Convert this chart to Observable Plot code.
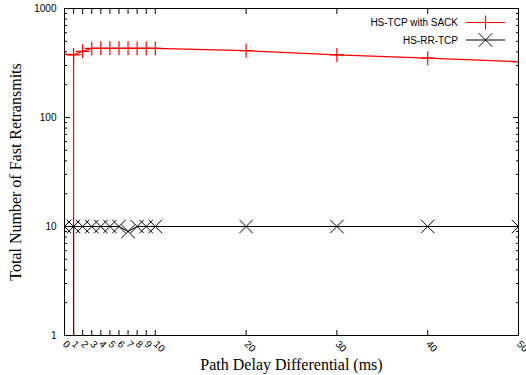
<!DOCTYPE html>
<html>
<head>
<meta charset="utf-8">
<script src="https://cdn.jsdelivr.net/npm/d3@7"></script>
<script src="https://cdn.jsdelivr.net/npm/@observablehq/plot@0.6"></script>
<style>
  body { margin: 0; background: #fff; }
  #chart svg { display: block; }
</style>
</head>
<body>
<div id="chart"></div>
<script>
// ---- data ----
const delays = [0, 1, 2, 3, 4, 5, 6, 7, 8, 9, 10, 20, 30, 40, 50];
const sackValues = [380, 375, 405, 430, 432, 432, 432, 432, 430, 430, 430, 410, 375, 350, 325];
const rrValues = [10, 10, 10, 10, 10, 10, 10, 9, 10, 10, 10, 10, 10, 10, 10];
const seriesNames = ["HS-TCP with SACK", "HS-RR-TCP"];
const xTicks = [0, 1, 2, 3, 4, 5, 6, 7, 8, 9, 10, 20, 30, 40, 50];
const yMajor = [1, 10, 100, 1000];
const yMinor = [2, 3, 4, 5, 6, 7, 8, 9, 20, 30, 40, 50, 60, 70, 80, 90, 200, 300, 400, 500, 600, 700, 800, 900];
const dropX = [1]; // vertical drop line at delay 1
const xTitle = "Path Delay Differential (ms)";
const yTitle = "Total Number of Fast Retransmits";

const sack = delays.map((d, i) => ({x: d, y: sackValues[i]}));
const rr = delays.map((d, i) => ({x: d, y: rrValues[i]}));
const sackDrop = dropX.map(x => ({x, y1: 1, y2: sackValues[delays.indexOf(x)]}));
const rrDrop = dropX.map(x => ({x, y1: 1, y2: rrValues[delays.indexOf(x)]}));

const sans = "'Liberation Sans', Arial, sans-serif";
const serif = "'Liberation Serif', 'Times New Roman', serif";

const plot = Plot.plot({
  width: 526,
  height: 375,
  marginLeft: 64,
  marginRight: 8,
  marginTop: 8,
  marginBottom: 40,
  style: {fontFamily: sans, fontSize: "10px", background: "#fff", overflow: "visible"},
  x: {domain: [0, 50]},
  y: {type: "log", domain: [1, 1000]},
  marks: [
    // inward ticks
    Plot.axisY({anchor: "left", ticks: yMajor, tickSize: -6, tickFormat: () => "", label: null}),
    Plot.axisY({anchor: "left", ticks: yMinor, tickSize: -3, tickFormat: () => "", label: null}),
    Plot.axisY({anchor: "right", ticks: yMajor, tickSize: -6, tickFormat: () => "", label: null}),
    Plot.axisY({anchor: "right", ticks: yMinor, tickSize: -3, tickFormat: () => "", label: null}),
    Plot.axisX({anchor: "bottom", ticks: xTicks, tickSize: -5, tickFormat: () => "", label: null}),
    Plot.axisX({anchor: "top", ticks: xTicks, tickSize: -5, tickFormat: () => "", label: null}),
    // labels
    Plot.axisY({anchor: "left", ticks: yMajor, tickSize: 0, tickPadding: 8, tickFormat: d => String(d), label: null, fontSize: 10}),
    Plot.axisX({anchor: "bottom", ticks: xTicks, tickSize: 0, tickPadding: 7, tickRotate: 45, tickFormat: d => String(d), label: null, fontSize: 10}),
    // series
    Plot.ruleX(sackDrop, {x: "x", y1: "y1", y2: "y2", stroke: "#ff0000", strokeWidth: 1.2}),
    Plot.line(sack, {x: "x", y: "y", stroke: "#ff0000", strokeWidth: 1.2, clip: true}),
    Plot.dot(sack, {x: "x", y: "y", symbol: "plus", r: 4.6, stroke: "#ff0000", strokeWidth: 1.2, clip: true}),
    Plot.line(rr, {x: "x", y: "y", stroke: "#000", strokeWidth: 1, clip: true}),
    Plot.dot(rr, {x: "x", y: "y", symbol: "times", r: 6.2, stroke: "#000", strokeWidth: 1, clip: true}),
    Plot.ruleX(rrDrop, {x: "x", y1: "y1", y2: "y2", stroke: "#000", strokeOpacity: 0.55, strokeWidth: 1.2}),
    Plot.frame({stroke: "#000", strokeWidth: 1}),
    // titles
    Plot.text([xTitle], {frameAnchor: "bottom", dy: 34, fontFamily: serif, fontSize: 16, fill: "#000"}),
    Plot.text([yTitle], {frameAnchor: "left", dx: -49, rotate: -90, textAnchor: "middle", fontFamily: serif, fontSize: 16, fill: "#000"})
  ]
});
document.getElementById("chart").appendChild(plot);

// ---- legend inside plot (top right) ----
const svg = d3.select(plot);
const legendItems = [
  {name: seriesNames[0], color: "#ff0000", symbol: d3.symbolPlus, size: Math.PI * 4.6 * 4.6, sw: 1.2},
  {name: seriesNames[1], color: "#000", symbol: d3.symbolTimes, size: Math.PI * 6.2 * 6.2, sw: 1}
];
const lg = svg.append("g").attr("font-family", sans).attr("font-size", 10);
legendItems.forEach((item, i) => {
  const y = 22.5 + i * 17.5;
  lg.append("text").attr("x", 458).attr("y", y).attr("dy", "0.35em")
    .attr("text-anchor", "end").attr("fill", "#000").text(item.name);
  lg.append("line").attr("x1", 466).attr("x2", 505).attr("y1", y).attr("y2", y)
    .attr("stroke", item.color).attr("stroke-width", item.sw);
  lg.append("path").attr("transform", `translate(485.5,${y})`)
    .attr("d", d3.symbol(item.symbol, item.size)())
    .attr("fill", "none").attr("stroke", item.color).attr("stroke-width", item.sw);
});
</script>
</body>
</html>
